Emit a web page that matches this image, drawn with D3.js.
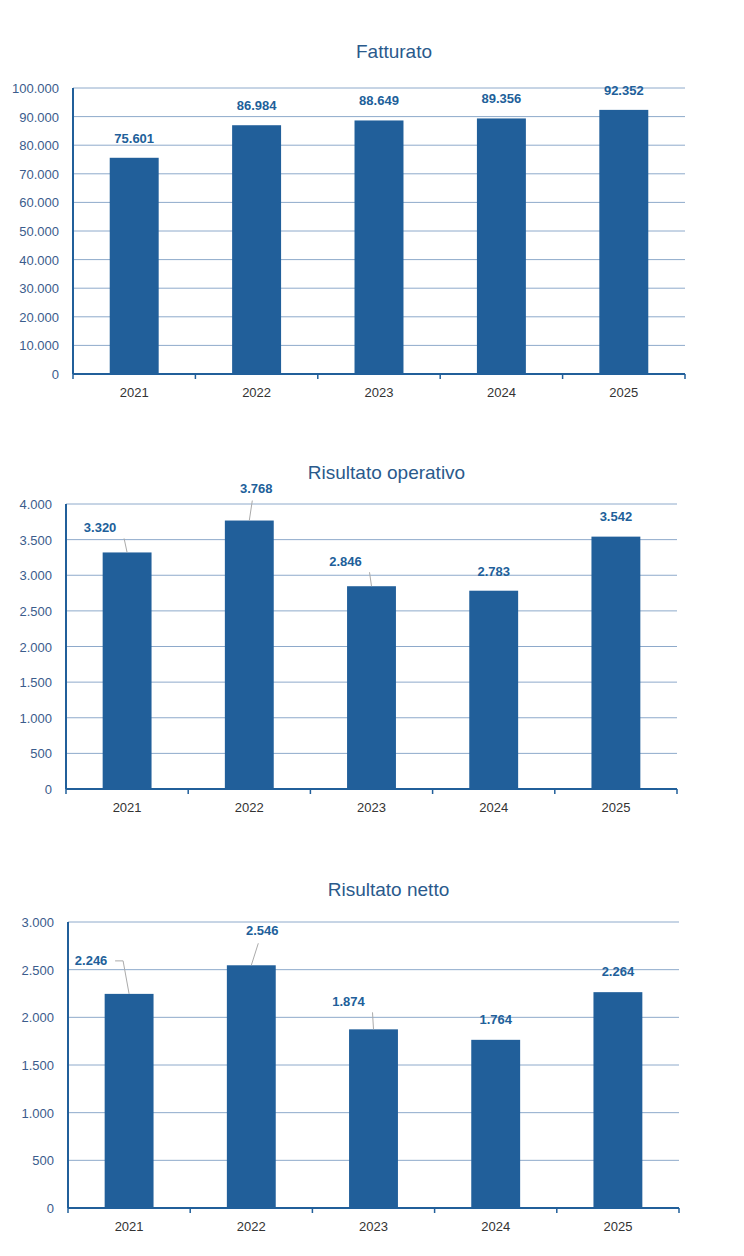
<!DOCTYPE html>
<html lang="it">
<head>
<meta charset="UTF-8">
<title>Fatturato e risultati</title>
<script src="https://d3js.org/d3.v7.min.js"></script>
<style>
  body { margin: 0; background: #fff; }
  text { font-family: "Liberation Sans", Arial, sans-serif; }
</style>
</head>
<body>
<script>
// data
const years = ["2021", "2022", "2023", "2024", "2025"];
const fatturato = [75601, 86984, 88649, 89356, 92352];
const operativo = [3320, 3768, 2846, 2783, 3542];
const netto = [2246, 2546, 1874, 1764, 2264];
const fatturatoTicks = [0, 10000, 20000, 30000, 40000, 50000, 60000, 70000, 80000, 90000, 100000];
const operativoTicks = [0, 500, 1000, 1500, 2000, 2500, 3000, 3500, 4000];
const nettoTicks = [0, 500, 1000, 1500, 2000, 2500, 3000];

const fmt = v => d3.format(",")(v).replace(/,/g, ".");
const barColor = "#215f9a", gridColor = "#8eaacb", textColor = "#3b5c8c";

const svg = d3.select("body").append("svg").attr("width", 744).attr("height", 1256);

// label placement relative to bar-top centre: [dx, dy, leader]
const charts = [
  { title: "Fatturato", values: fatturato, ticks: fatturatoTicks, max: 100000,
    x0: 73, x1: 685, y0: 88, y1: 374, titleY: 58,
    labels: [[0,-15,0],[0,-15,0],[0,-15,0],[0,-15,0],[0,-15,0]] },
  { title: "Risultato operativo", values: operativo, ticks: operativoTicks, max: 4000,
    x0: 66, x1: 677, y0: 504, y1: 789, titleY: 479,
    labels: [[-27,-20,1],[7,-28,1],[-26,-20,1],[0,-15,0],[0,-16,0]] },
  { title: "Risultato netto", values: netto, ticks: nettoTicks, max: 3000,
    x0: 68, x1: 679, y0: 922, y1: 1208, titleY: 896,
    labels: [[-38,-29,1],[11,-30,1],[-25,-23,1],[0,-16,0],[0,-16,0]] }
];

charts.forEach(c => {
  const g = svg.append("g");
  const x = d3.scaleBand().domain(years).range([c.x0, c.x1]).paddingInner(0.6).paddingOuter(0.3);
  const y = d3.scaleLinear().domain([0, c.max]).range([c.y1, c.y0]);

  g.append("text").attr("x", (c.x0 + c.x1) / 2 + 15).attr("y", c.titleY)
    .attr("text-anchor", "middle").attr("font-size", 19).attr("fill", "#2a5a8c")
    .attr("font-family", "Noto Sans, sans-serif").text(c.title);

  // gridlines
  g.selectAll(".grid").data(c.ticks.filter(t => t > 0)).join("line")
    .attr("x1", c.x0).attr("x2", c.x1)
    .attr("y1", d => y(d)).attr("y2", d => y(d))
    .attr("stroke", gridColor).attr("stroke-width", 1);

  g.selectAll(".tick").data(c.ticks).join("text")
    .attr("x", c.x0 - 14).attr("y", d => y(d) + 5)
    .attr("text-anchor", "end").attr("font-size", 13).attr("fill", textColor)
    .text(d => fmt(d));

  g.selectAll("rect").data(c.values).join("rect")
    .attr("x", (d, i) => x(years[i])).attr("width", x.bandwidth())
    .attr("y", d => y(d)).attr("height", d => c.y1 - y(d))
    .attr("fill", barColor);

  // axes
  g.append("line").attr("x1", c.x0).attr("x2", c.x0).attr("y1", c.y0).attr("y2", c.y1)
    .attr("stroke", barColor).attr("stroke-width", 2);
  g.append("line").attr("x1", c.x0).attr("x2", c.x1).attr("y1", c.y1).attr("y2", c.y1)
    .attr("stroke", barColor).attr("stroke-width", 2);
  const step = (c.x1 - c.x0) / years.length;
  g.selectAll(".xt").data(d3.range(years.length + 1)).join("line")
    .attr("x1", i => c.x0 + i * step).attr("x2", i => c.x0 + i * step)
    .attr("y1", c.y1).attr("y2", c.y1 + 5).attr("stroke", barColor).attr("stroke-width", 1.5);

  g.selectAll(".yr").data(years).join("text")
    .attr("x", d => x(d) + x.bandwidth() / 2).attr("y", c.y1 + 23)
    .attr("text-anchor", "middle").attr("font-size", 13).attr("fill", "#333")
    .text(d => d);

  // value labels with leader lines
  c.values.forEach((v, i) => {
    const cx = x(years[i]) + x.bandwidth() / 2, top = y(v);
    const [dx, dy, leader] = c.labels[i];
    const lx = cx + dx, ly = top + dy;
    if (leader) {
      const sx = dx < 0 ? lx + 24 : lx - 4;
      const sy = dx < 0 ? ly - 4 : ly + 8;
      const pts = dx < 0 && dy > -25 ? [[sx, ly + 6], [cx, top]] :
                  dx < 0 ? [[sx, sy], [sx + 8, sy], [cx, top]] : [[sx, sy], [cx, top]];
      g.append("path").attr("d", d3.line()(pts))
        .attr("fill", "none").attr("stroke", "#aaa").attr("stroke-width", 1);
    }
    g.append("text").attr("x", lx).attr("y", ly)
      .attr("text-anchor", "middle").attr("font-size", 13).attr("font-weight", "bold")
      .attr("fill", barColor).attr("font-family", "Liberation Sans Narrow, Liberation Sans, sans-serif")
      .text(fmt(v));
  });
});
</script>
</body>
</html>
